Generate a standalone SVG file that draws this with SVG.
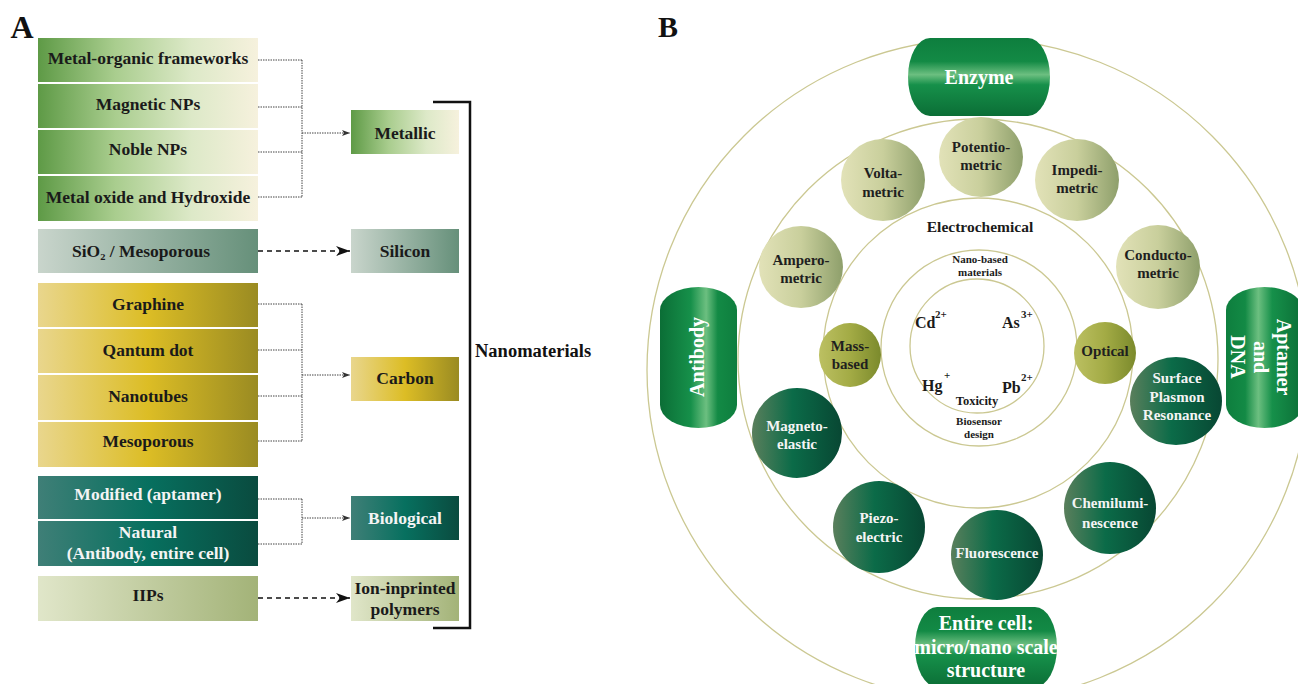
<svg xmlns="http://www.w3.org/2000/svg" width="1298" height="684" viewBox="0 0 1298 684">
<defs>
<linearGradient id="gMetal" x1="0" y1="0" x2="1" y2="0"><stop offset="0" stop-color="#5e9a46"/><stop offset="0.35" stop-color="#a9cd8e"/><stop offset="0.7" stop-color="#dde9c8"/><stop offset="1" stop-color="#f6f1dd"/></linearGradient>
<linearGradient id="gSil" x1="0" y1="0" x2="1" y2="0"><stop offset="0" stop-color="#c9d5cc"/><stop offset="1" stop-color="#66907a"/></linearGradient>
<linearGradient id="gCarb" x1="0" y1="0" x2="1" y2="0"><stop offset="0" stop-color="#e9d68d"/><stop offset="0.5" stop-color="#dcbd25"/><stop offset="1" stop-color="#9a8b22"/></linearGradient>
<linearGradient id="gBio" x1="0" y1="0" x2="1" y2="0"><stop offset="0" stop-color="#3f7f77"/><stop offset="0.5" stop-color="#07705f"/><stop offset="1" stop-color="#0a4b3f"/></linearGradient>
<linearGradient id="gIip" x1="0" y1="0" x2="1" y2="0"><stop offset="0" stop-color="#e0e6c9"/><stop offset="1" stop-color="#a3b378"/></linearGradient>
<linearGradient id="gLo" x1="0" y1="0" x2="1" y2="0"><stop offset="0" stop-color="#e2e2b8"/><stop offset="0.5" stop-color="#c9cf9c"/><stop offset="1" stop-color="#8e9f6b"/></linearGradient>
<linearGradient id="gMo" x1="0" y1="0" x2="1" y2="0"><stop offset="0" stop-color="#bcc062"/><stop offset="0.5" stop-color="#a3ab45"/><stop offset="1" stop-color="#7b8a2c"/></linearGradient>
<linearGradient id="gDg" x1="0" y1="0" x2="1" y2="0"><stop offset="0" stop-color="#5a7f5c"/><stop offset="0.45" stop-color="#0b6b48"/><stop offset="1" stop-color="#084733"/></linearGradient>
<linearGradient id="gBarV" x1="0" y1="0" x2="0" y2="1"><stop offset="0" stop-color="#0e7e3e"/><stop offset="0.3" stop-color="#138a45"/><stop offset="0.47" stop-color="#6cbf80"/><stop offset="0.6" stop-color="#16904a"/><stop offset="1" stop-color="#0b6e36"/></linearGradient>
<linearGradient id="gBarL" x1="0" y1="0" x2="1" y2="0"><stop offset="0" stop-color="#0b6e36"/><stop offset="0.4" stop-color="#16904a"/><stop offset="0.6" stop-color="#6cbf80"/><stop offset="0.75" stop-color="#138a45"/><stop offset="1" stop-color="#0e7e3e"/></linearGradient>
<linearGradient id="gBarR" x1="0" y1="0" x2="1" y2="0"><stop offset="0" stop-color="#0e7e3e"/><stop offset="0.25" stop-color="#138a45"/><stop offset="0.42" stop-color="#6cbf80"/><stop offset="0.6" stop-color="#16904a"/><stop offset="1" stop-color="#0b6e36"/></linearGradient>
<marker id="aSmall" markerUnits="userSpaceOnUse" markerWidth="10" markerHeight="8" refX="8" refY="4" orient="auto"><path d="M0,1 L8,4 L0,7 L2,4 Z" fill="#333"/></marker>
<marker id="aBig" markerUnits="userSpaceOnUse" markerWidth="16" markerHeight="12" refX="14" refY="6" orient="auto"><path d="M0,1 L14,6 L0,11 L4,6 Z" fill="#111"/></marker>
<style>
text{font-family:"Liberation Serif","Times New Roman",serif;font-weight:bold;text-anchor:middle}
.ta{font-size:17.5px;fill:#1a1a1a}
.tw{font-size:17.5px;fill:#f4f4f4}
.tb{font-size:15px;fill:#1f1f1f}
.tbw{font-size:15px;fill:#f4f4f4}
.big{font-size:20px;fill:#ffffff}
.ring{fill:none;stroke:#cbc892;stroke-width:1.3}
.dot{fill:none;stroke:#444;stroke-width:1;stroke-dasharray:1.5 1}
.dash{fill:none;stroke:#111;stroke-width:1.6;stroke-dasharray:5 4}
.ion{font-size:16px;fill:#1a1a1a;text-anchor:start}
.sup{font-size:11px;fill:#1a1a1a;text-anchor:start}
.sm{font-size:11px;fill:#1a1a1a}
</style>
</defs>
<rect width="1298" height="684" fill="#ffffff"/>
<text x="22" y="38" style="font-size:32px;fill:#111">A</text>
<text x="668" y="37" style="font-size:30px;fill:#111">B</text>

<g id="metallic-group">
<rect x="38" y="38" width="220" height="44" fill="url(#gMetal)"/>
<rect x="38" y="84" width="220" height="44" fill="url(#gMetal)"/>
<rect x="38" y="130" width="220" height="44" fill="url(#gMetal)"/>
<rect x="38" y="176" width="220" height="45" fill="url(#gMetal)"/>
<text class="ta" x="148" y="64">Metal-organic frameworks</text>
<text class="ta" x="148" y="110">Magnetic NPs</text>
<text class="ta" x="148" y="155">Noble NPs</text>
<text class="ta" x="148" y="203">Metal oxide and Hydroxide</text>
</g>
<g id="metallic"><rect x="351" y="110" width="108" height="44" fill="url(#gMetal)"/><text class="ta" x="405" y="139">Metallic</text></g>

<g id="silicon-group"><rect x="38" y="229" width="220" height="44" fill="url(#gSil)"/><text class="ta" x="141" y="257">SiO₂ / Mesoporous</text></g>
<g id="silicon"><rect x="351" y="229" width="108" height="44" fill="url(#gSil)"/><text class="ta" x="405" y="257">Silicon</text></g>

<g id="carbon-group">
<rect x="38" y="283" width="220" height="44" fill="url(#gCarb)"/>
<rect x="38" y="329" width="220" height="44" fill="url(#gCarb)"/>
<rect x="38" y="375" width="220" height="45" fill="url(#gCarb)"/>
<rect x="38" y="422" width="220" height="45" fill="url(#gCarb)"/>
<text class="ta" x="148" y="310">Graphine</text>
<text class="ta" x="148" y="356">Qantum dot</text>
<text class="ta" x="148" y="402">Nanotubes</text>
<text class="ta" x="148" y="447">Mesoporous</text>
</g>
<g id="carbon"><rect x="351" y="357" width="108" height="44" fill="url(#gCarb)"/><text class="ta" x="405" y="384">Carbon</text></g>

<g id="bio-group">
<rect x="38" y="476" width="220" height="43" fill="url(#gBio)"/>
<rect x="38" y="521" width="220" height="45" fill="url(#gBio)"/>
<text class="tw" x="148" y="500">Modified (aptamer)</text>
<text class="tw" x="148" y="538">Natural</text>
<text class="tw" x="148" y="559">(Antibody, entire cell)</text>
</g>
<g id="biological"><rect x="351" y="496" width="108" height="44" fill="url(#gBio)"/><text class="tw" x="405" y="524">Biological</text></g>

<g id="iip-group"><rect x="38" y="576" width="220" height="45" fill="url(#gIip)"/><text class="ta" x="148" y="601">IIPs</text></g>
<g id="iip"><rect x="351" y="576" width="108" height="45" fill="url(#gIip)"/><text class="ta" x="405" y="594">Ion-inprinted</text><text class="ta" x="405" y="615">polymers</text></g>

<g id="nanomaterials">
<path d="M433,102 H470 V628 H433" fill="none" stroke="#111" stroke-width="2.5"/>
<text x="475" y="357" style="font-size:18.5px;fill:#111;text-anchor:start">Nanomaterials</text>
</g>

<g id="connectors">
<path class="dot" d="M258,60 H302 M258,107 H302 M258,152 H302 M258,197 H302 M302,60 V197"/>
<path class="dot" d="M302,133 H350" marker-end="url(#aSmall)"/>
<path class="dash" d="M258,251 H350" marker-end="url(#aBig)"/>
<path class="dot" d="M258,304 H302 M258,350 H302 M258,396 H302 M258,441 H302 M302,304 V441"/>
<path class="dot" d="M302,375 H350" marker-end="url(#aSmall)"/>
<path class="dot" d="M258,499 H302 M258,544 H302 M302,499 V544"/>
<path class="dot" d="M302,518 H350" marker-end="url(#aSmall)"/>
<path class="dash" d="M258,598 H350" marker-end="url(#aBig)"/>
</g>

<g id="rings">
<circle class="ring" cx="978" cy="370" r="331"/>
<circle class="ring" cx="978" cy="359" r="240"/>
<circle class="ring" cx="978" cy="353" r="155"/>
<circle class="ring" cx="979" cy="348" r="98"/>
<circle class="ring" cx="977" cy="346" r="67"/>
</g>

<g id="center">
<text class="ion" x="915" y="328">Cd</text><text class="sup" x="935" y="318">2+</text>
<text class="ion" x="1002" y="328">As</text><text class="sup" x="1021" y="318">3+</text>
<text class="ion" x="922" y="391">Hg</text><text class="sup" x="944" y="379">+</text>
<text class="ion" x="1002" y="393">Pb</text><text class="sup" x="1021" y="381">2+</text>
<text x="977" y="405" style="font-size:12.5px;fill:#1a1a1a">Toxicity</text>
<text class="sm" x="980" y="263">Nano-based</text>
<text class="sm" x="980" y="276">materials</text>
<text class="sm" x="979" y="425">Biosensor</text>
<text class="sm" x="979" y="438">design</text>
<text x="980" y="232" style="font-size:15.5px;fill:#1a1a1a">Electrochemical</text>
</g>

<g id="potentiometric"><ellipse cx="981" cy="157" rx="42" ry="40" fill="url(#gLo)"/><text class="tb" x="981" y="152">Potentio-</text><text class="tb" x="981" y="170">metric</text></g>
<g id="voltametric"><ellipse cx="883" cy="180" rx="42" ry="41" fill="url(#gLo)"/><text class="tb" x="883" y="178">Volta-</text><text class="tb" x="883" y="197">metric</text></g>
<g id="impedimetric"><ellipse cx="1077" cy="180" rx="42" ry="41" fill="url(#gLo)"/><text class="tb" x="1077" y="175">Impedi-</text><text class="tb" x="1077" y="193">metric</text></g>
<g id="amperometric"><ellipse cx="801" cy="267" rx="42" ry="41" fill="url(#gLo)"/><text class="tb" x="801" y="265">Ampero-</text><text class="tb" x="801" y="283">metric</text></g>
<g id="conductometric"><ellipse cx="1158" cy="267" rx="42" ry="42" fill="url(#gLo)"/><text class="tb" x="1158" y="260">Conducto-</text><text class="tb" x="1158" y="278">metric</text></g>
<g id="massbased"><ellipse cx="850" cy="355" rx="31" ry="32" fill="url(#gMo)"/><text class="tb" x="850" y="351">Mass-</text><text class="tb" x="850" y="369">based</text></g>
<g id="optical"><ellipse cx="1105" cy="353" rx="31" ry="31" fill="url(#gMo)"/><text class="tb" x="1105" y="356">Optical</text></g>
<g id="magnetoelastic"><ellipse cx="797" cy="433" rx="45" ry="45" fill="url(#gDg)"/><text class="tbw" x="797" y="431">Magneto-</text><text class="tbw" x="797" y="449">elastic</text></g>
<g id="spr"><ellipse cx="1176" cy="401" rx="46" ry="44" fill="url(#gDg)"/><text class="tbw" x="1177" y="383">Surface</text><text class="tbw" x="1177" y="402">Plasmon</text><text class="tbw" x="1177" y="420">Resonance</text></g>
<g id="piezoelectric"><ellipse cx="879" cy="527" rx="46" ry="46" fill="url(#gDg)"/><text class="tbw" x="879" y="523">Piezo-</text><text class="tbw" x="879" y="542">electric</text></g>
<g id="fluorescence"><ellipse cx="997" cy="555" rx="46" ry="45" fill="url(#gDg)"/><text class="tbw" x="997" y="558">Fluorescence</text></g>
<g id="chemiluminescence"><ellipse cx="1110" cy="508" rx="46" ry="46" fill="url(#gDg)"/><text class="tbw" x="1110" y="508">Chemilumi-</text><text class="tbw" x="1110" y="528">nescence</text></g>

<g id="enzyme"><path d="M930,38 H1028 A22,39 0 0 1 1028,116 H930 A22,39 0 0 1 930,38 Z" fill="url(#gBarV)"/><text class="big" x="979" y="84">Enzyme</text></g>
<g id="entire-cell"><path d="M937,607 H1035 A22,40 0 0 1 1035,687 H937 A22,40 0 0 1 937,607 Z" fill="url(#gBarV)"/><text class="big" x="986" y="630">Entire cell:</text><text class="big" x="986" y="654">micro/nano scale</text><text class="big" x="986" y="677">structure</text></g>
<g id="antibody"><path d="M660,310 V405 A38.5,23 0 0 0 737,405 V310 A38.5,23 0 0 0 660,310 Z" fill="url(#gBarL)"/><text class="big" transform="translate(704,357) rotate(-90)">Antibody</text></g>
<g id="aptamer-dna"><path d="M1226,310 V405 A38.5,23 0 0 0 1303,405 V310 A38.5,23 0 0 0 1226,310 Z" fill="url(#gBarR)"/><text class="big" transform="translate(1277,357) rotate(90)">Aptamer</text><text class="big" transform="translate(1254,357) rotate(90)">and</text><text class="big" transform="translate(1231,357) rotate(90)">DNA</text></g>
</svg>
